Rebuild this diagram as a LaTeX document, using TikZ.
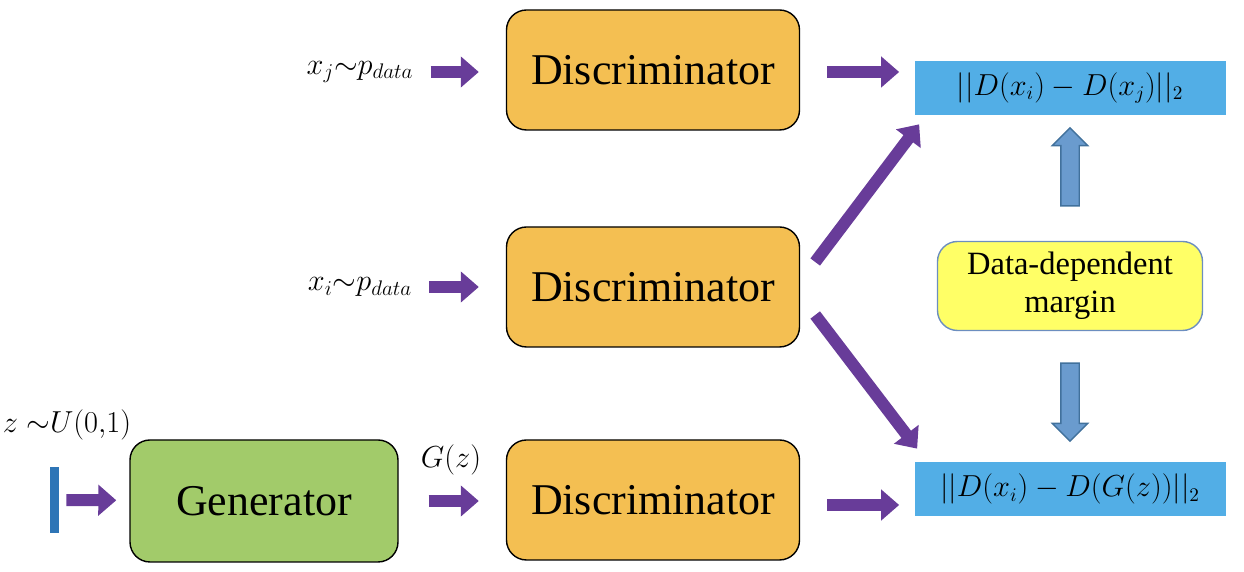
\documentclass[tikz,border=0pt]{standalone}
\usepackage{fontspec}
\setmainfont{Liberation Serif}
\usepackage{tikz}
\usetikzlibrary{positioning, calc, arrows.meta, shapes.arrows}
\definecolor{discorange}{HTML}{F4BF52}
\definecolor{gengreen}{HTML}{A2CB6A}
\definecolor{normblue}{HTML}{52AEE6}
\definecolor{marginyellow}{HTML}{FFFF66}
\definecolor{marginedge}{HTML}{6C8EBF}
\definecolor{fatpurple}{HTML}{683C99}
\definecolor{blockfill}{HTML}{6A9BCE}
\definecolor{blockedge}{HTML}{41719C}
\definecolor{barblue}{HTML}{2E75B6}

\begin{document}
\begin{tikzpicture}[
		fat/.style={line width=0.24cm, draw=fatpurple, -{Triangle[width=0.6cm,length=0.36cm]}},
		box/.style={draw, line width=0.8pt, rounded corners=0.4cm, inner sep=0, font=\fontsize{25}{30}\selectfont},
		disc/.style={box, fill=discorange, minimum width=5.86cm, minimum height=2.4cm},
		gen/.style={box, fill=gengreen, minimum width=5.36cm, minimum height=2.44cm},
		norm/.style={fill=normblue, minimum width=6.22cm, minimum height=1.08cm, inner sep=0, font=\fontsize{16}{19}\selectfont},
		lbl/.style={inner sep=1pt, font=\fontsize{17}{20}\selectfont},
		blockarrow/.style={single arrow, draw=blockedge, fill=blockfill, line width=0.8pt,
			minimum height=1.56cm, inner sep=0.17cm,
			single arrow head extend=0.17cm, single arrow head indent=0, shape border rotate=#1}]
		\useasboundingbox (0,0) rectangle (24.88,11.44);
		\node[disc] (d1) at (13.06,10.04) {Discriminator};
		\node[disc] (d2) at (13.06,5.70)  {Discriminator};
		\node[disc] (d3) at (13.06,1.44)  {Discriminator};
		\node[gen]  (g)  at (5.28,1.42)   {Generator};
		\node[norm] (n1) at (21.40,9.68) {$||D(x_i)-D\bigl(x_j\bigr)||_2$};
		\node[norm] (n2) at (21.40,1.66) {$||D(x_i)-D(G(z))||_2$};
		\node[box, draw=marginedge, fill=marginyellow, minimum width=5.3cm, minimum height=1.78cm,
			align=center, font=\fontsize{18.5}{21.6}\selectfont] (m) at (21.40,5.72) {Data-dependent\\margin};
		\node[fill=barblue, minimum width=0.18cm, minimum height=1.32cm, inner sep=0] (bar) at (1.09,1.44) {};

		\node[lbl] (xj) at (7.2,10.0) {$x_j{\sim}p_{data}$};
		\node[lbl] (xi) at (7.2,5.70) {$x_i{\sim}p_{data}$};
		\node[lbl] (z)  at (1.34,2.94) {$z\;{\sim}U(0{,}1)$};
		\node[lbl] (gz) at (9.02,2.24) {$G(z)$};

		\node[blockarrow=90]  (up)   at (21.40,8.01) {};
		\node[blockarrow=270] (down) at (21.40,3.49) {};

		\draw[fat, shorten <=0.3cm, shorten >=0.54cm] (xj) -- (xj -| d1.west);
		\draw[fat, shorten <=0.3cm, shorten >=0.54cm] (xi) -- (xi -| d2.west);
		\draw[fat, shorten <=0.14cm, shorten >=0.26cm] (bar) -- (g);
		\draw[fat, shorten <=0.6cm, shorten >=0.54cm] (g) -- (g -| d3.west);
		\draw[fat, shorten <=0.54cm, shorten >=0.3cm] (xj -| d1.east) -- (xj -| n1.west);

% the lower output arrow sits a little under the middle of d3
		\draw[fat, shorten <=0.54cm, shorten >=0.3cm] ([yshift=-0.1cm]d3.east) -- ([yshift=-0.1cm]d3.east -| n2.west);

		\draw[fat] ([shift={(0.3,0.5)}]d2.east) -- ([shift={(0.1,-0.18)}]n1.south west);
		\draw[fat] ([shift={(0.3,-0.56)}]d2.east) -- ([shift={(0.06,0.26)}]n2.north west);

\end{tikzpicture}
\end{document}
